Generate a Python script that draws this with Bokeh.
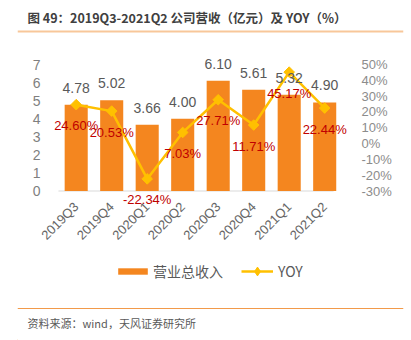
import math
from bokeh.plotting import figure
from bokeh.layouts import column
from bokeh.models import (ColumnDataSource, Range1d, LinearAxis, Label,
                          LabelSet, Legend, LegendItem, FixedTicker,
                          CustomJSTickFormatter)
from bokeh.core.properties import value
from bokeh.embed import file_html
from bokeh.resources import INLINE

quarters = ["2019Q3", "2019Q4", "2020Q1", "2020Q2", "2020Q3", "2020Q4", "2021Q1", "2021Q2"]
revenue = [4.78, 5.02, 3.66, 4.00, 6.10, 5.61, 5.32, 4.90]
yoy = [24.60, 20.53, -22.34, 7.03, 27.71, 11.71, 45.17, 22.44]
revenue_labels = ["4.78", "5.02", "3.66", "4.00", "6.10", "5.61", "5.32", "4.90"]
yoy_labels = ["24.60%", "20.53%", "-22.34%", "7.03%", "27.71%", "11.71%", "45.17%", "22.44%"]
left_ticks = [0, 1, 2, 3, 4, 5, 6, 7]
right_ticks = [-30, -20, -10, 0, 10, 20, 30, 40, 50]
title_text = "图 49：2019Q3-2021Q2 公司营收（亿元）及 YOY（%）"
source_text = "资料来源：wind，天风证券研究所"
bar_name = "营业总收入"
line_name = "YOY"

BAR = "#F4861F"
LINE = "#FFC000"
NUM_FONT = "Liberation Sans"
CJK_FONT = "Noto Sans CJK SC"
W = 411

# ---- layout (canvas pixels) ----
HEAD_H = 36
MAIN_H = 219
FOOT_H = 340 - HEAD_H - MAIN_H
FR_L, FR_R = 17, 403        # frame left/right, shared by all strips
STEP = 35.5                 # pixels per category
FIRST = 75.7                # canvas x of the first category centre
PX = 18.07                  # pixels per unit of revenue
Y0 = 190.5                  # canvas y of revenue 0
F_TOP, F_BOT = 52, 210
L_MIN, L_MAX = 0, 7
R_MIN, R_MAX = -30, 50
lo = (Y0 - F_BOT) / PX
hi = (Y0 - F_TOP) / PX
x_lo = -(FIRST - FR_L) / STEP
x_hi = (FR_R - FIRST) / STEP


def to_right(v):
    return R_MIN + (v - L_MIN) * (R_MAX - R_MIN) / (L_MAX - L_MIN)


def strip(h):
    f = figure(width=W, height=h, x_range=Range1d(FR_L, FR_R), y_range=Range1d(0, h),
               x_axis_location=None, y_axis_location=None, toolbar_location=None,
               output_backend="svg", min_border=0, margin=0,
               min_border_left=FR_L, min_border_right=W - FR_R)
    f.outline_line_color = None
    f.grid.grid_line_color = None
    f.background_fill_color = "white"
    f.border_fill_color = "white"
    return f


# ---- header: title + rule (data units = canvas pixels, y measured upward) ----
head = strip(HEAD_H)
head.add_layout(Label(x=27, y=HEAD_H - 17, text=title_text, text_font=CJK_FONT,
                      text_font_size="12.5px", text_font_style="bold",
                      text_color="#404040", text_baseline="middle", text_align="left"))
head.quad(left=[FR_L], right=[FR_R], top=[HEAD_H - 30], bottom=[HEAD_H - 32],
          fill_color="#F8C79A", line_color=None)

# ---- main chart ----
idx = list(range(len(quarters)))
src = ColumnDataSource(dict(x=idx, q=quarters, rev=revenue, yoy=yoy,
                            rev_lab=revenue_labels, yoy_lab=yoy_labels))

p = figure(width=W, height=MAIN_H, x_range=Range1d(x_lo, x_hi), y_range=Range1d(lo, hi),
           output_backend="svg", toolbar_location=None, margin=0,
           min_border_left=FR_L, min_border_right=W - FR_R,
           min_border_top=F_TOP - HEAD_H, min_border_bottom=HEAD_H + MAIN_H - F_BOT)
p.outline_line_color = None
p.xgrid.grid_line_color = None
p.ygrid.grid_line_color = None
p.background_fill_color = "white"
p.border_fill_color = "white"
p.extra_y_ranges = {"yoy": Range1d(to_right(lo), to_right(hi))}

# category baseline (x axis line at revenue 0)
p.segment(x0=[idx[0] - 0.5], x1=[idx[-1] + 0.25], y0=[0], y1=[0],
          line_color="#D9D9D9", line_width=1)
bars = p.vbar(x="x", top="rev", width=0.65, source=src, fill_color=BAR, line_color=None)
ln = p.line(x="x", y="yoy", y_range_name="yoy", source=src, line_color=LINE, line_width=2.5)
mk = p.scatter(x="x", y="yoy", y_range_name="yoy", source=src, marker="square",
               angle=math.pi / 4, size=7.5, fill_color=LINE, line_color=LINE)

xa = p.xaxis[0]
xa.ticker = FixedTicker(ticks=idx)
xa.major_label_overrides = {i: q for i, q in zip(idx, quarters)}
xa.axis_line_color = None
xa.major_tick_line_color = None
xa.minor_tick_line_color = None
xa.major_label_orientation = math.pi / 4
xa.major_label_standoff = -12
xa.major_label_text_font = NUM_FONT
xa.major_label_text_font_size = "13px"
xa.major_label_text_color = "#666666"

ya = p.yaxis[0]
ya.ticker = FixedTicker(ticks=left_ticks)
ya.axis_line_color = None
ya.major_tick_line_color = None
ya.minor_tick_line_color = None
ya.major_label_standoff = FR_L - 46
ya.major_label_text_font = NUM_FONT
ya.major_label_text_font_size = "14px"
ya.major_label_text_color = "#7F7F7F"

ra = LinearAxis(y_range_name="yoy", ticker=FixedTicker(ticks=right_ticks),
                formatter=CustomJSTickFormatter(code="return tick + '%';"))
ra.axis_line_color = None
ra.major_tick_line_color = None
ra.minor_tick_line_color = None
ra.major_label_standoff = 355 - FR_R
ra.major_label_text_font = NUM_FONT
ra.major_label_text_font_size = "13px"
ra.major_label_text_color = "#8C8C8C"
p.add_layout(ra, "right")

p.add_layout(LabelSet(x="x", y="rev", text="rev_lab", source=src, y_offset=17,
                      text_align="center", text_baseline="middle",
                      text_font=value(NUM_FONT), text_font_size="14px", text_color="#595959"))
p.add_layout(LabelSet(x="x", y="yoy", text="yoy_lab", source=src, y_range_name="yoy",
                      y_offset=-21, text_align="center", text_baseline="middle",
                      text_font=value(NUM_FONT), text_font_size="13px", text_color="#C00000"))

# ---- footer: legend, rule, source ----
foot = strip(FOOT_H)
F0 = HEAD_H + MAIN_H          # canvas y of the footer top
# legend proxies, kept outside the visible range
r_bar = foot.vbar(x=[-500], top=[1], width=1, fill_color=BAR, line_color=None)
r_line = foot.line(x=[-500, -490], y=[5, 5], line_color=LINE, line_width=2.5)
r_mk = foot.scatter(x=[-500], y=[5], marker="diamond", size=9,
                    fill_color=LINE, line_color=LINE)
ITEM_H = 22
leg_y = FOOT_H - (270.7 - F0) - ITEM_H / 2
leg1 = Legend(items=[LegendItem(label=bar_name, renderers=[r_bar])], location=(114 - FR_L, leg_y),
              orientation="horizontal", glyph_width=37, glyph_height=8, label_height=ITEM_H,
              label_standoff=2, padding=0, margin=0, border_line_color=None,
              background_fill_alpha=0, label_text_font=CJK_FONT,
              label_text_font_size="14px", label_text_color="#595959")
leg2 = Legend(items=[LegendItem(label=line_name, renderers=[r_line, r_mk])], location=(241 - FR_L, leg_y),
              orientation="horizontal", glyph_width=32, glyph_height=ITEM_H, label_height=ITEM_H,
              label_standoff=5, padding=0, margin=0, border_line_color=None,
              background_fill_alpha=0, label_text_font=CJK_FONT,
              label_text_font_size="14px", label_text_color="#595959")
foot.add_layout(leg1, "center")
foot.add_layout(leg2, "center")
foot.quad(left=[FR_L], right=[FR_R], top=[FOOT_H - (307.4 - F0)], bottom=[FOOT_H - (308.6 - F0)],
          fill_color="#F29A4A", line_color=None)
foot.add_layout(Label(x=27, y=FOOT_H - (322 - F0), text=source_text, text_font=CJK_FONT,
                      text_font_size="11px", text_color="#595959",
                      text_baseline="middle", text_align="left"))

layout = column(head, p, foot, spacing=0, margin=0)
open("out.html", "w").write(file_html(layout, INLINE))
